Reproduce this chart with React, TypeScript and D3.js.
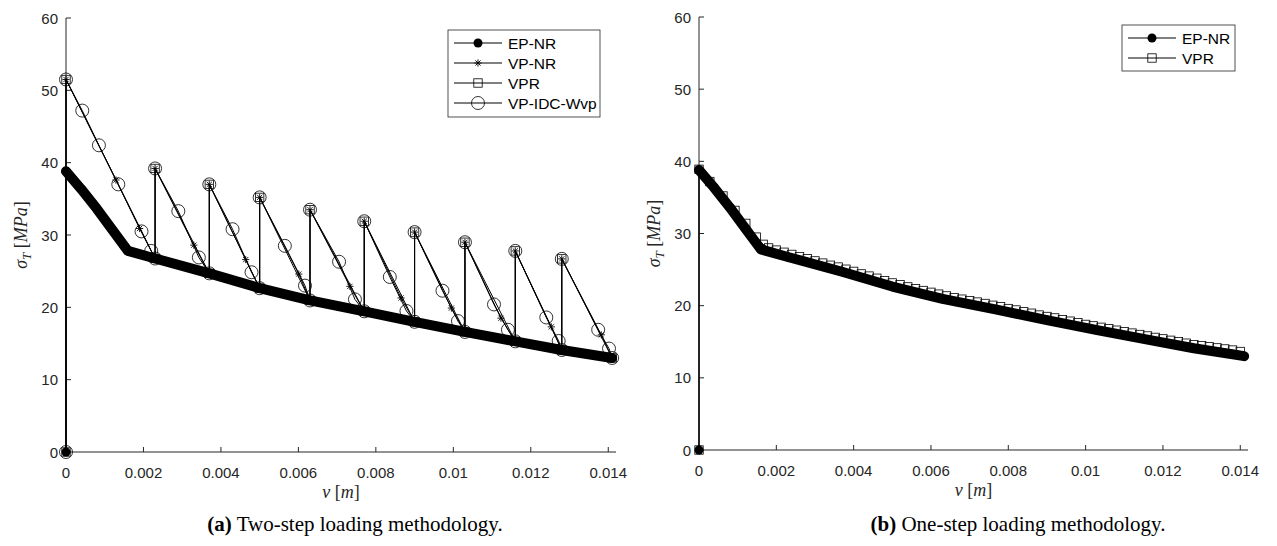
import React from "react";
import * as d3 from "d3";

// ---- data ----
const xTicks = [0, 0.002, 0.004, 0.006, 0.008, 0.01, 0.012, 0.014];
const xTickLabels = ["0", "0.002", "0.004", "0.006", "0.008", "0.01", "0.012", "0.014"];
const yTicks = [0, 10, 20, 30, 40, 50, 60];

// EP-NR (same response in both panels)
const epV = [0, 0, 0.0004, 0.0008, 0.0012, 0.0016, 0.0023, 0.0037, 0.005, 0.0063, 0.0077, 0.009, 0.0103, 0.0116, 0.0128, 0.0141];
const epS = [0, 38.8, 36.3, 33.6, 30.7, 27.8, 26.75, 24.7, 22.65, 20.95, 19.45, 18.0, 16.6, 15.3, 14.1, 13.0];

// two-step: VP-NR
const vpnrV = [0, 0, 0.00129, 0.0019, 0.0023, 0.0023, 0.0033, 0.0037, 0.0037, 0.00464, 0.005, 0.005, 0.00601, 0.0063, 0.0063, 0.00733, 0.0077, 0.0077, 0.00865, 0.009, 0.009, 0.00995, 0.0103, 0.0103, 0.01123, 0.0116, 0.0116, 0.01253, 0.0128, 0.0128, 0.01382, 0.0141];
const vpnrS = [0, 51.5, 37.6, 30.9, 26.75, 39.2, 28.6, 24.7, 37.0, 26.6, 22.65, 35.2, 24.6, 20.95, 33.5, 22.9, 19.45, 31.9, 21.3, 18.0, 30.4, 19.9, 16.6, 29.0, 18.5, 15.3, 27.8, 17.3, 14.1, 26.7, 16.2, 13.0];

// two-step: VPR
const vprV = [0, 0, 0.0023, 0.0023, 0.0037, 0.0037, 0.005, 0.005, 0.0063, 0.0063, 0.0077, 0.0077, 0.009, 0.009, 0.0103, 0.0103, 0.0116, 0.0116, 0.0128, 0.0128, 0.0141];
const vprS = [0, 51.5, 26.75, 39.2, 24.7, 37.0, 22.65, 35.2, 20.95, 33.5, 19.45, 31.9, 18.0, 30.4, 16.6, 29.0, 15.3, 27.8, 14.1, 26.7, 13.0];

// two-step: VP-IDC-Wvp
const idcV = [0, 0, 0.00042, 0.00085, 0.00135, 0.00195, 0.0022, 0.0023, 0.0023, 0.0029, 0.00343, 0.0037, 0.0037, 0.0043, 0.00479, 0.005, 0.005, 0.00565, 0.00617, 0.0063, 0.0063, 0.00705, 0.00746, 0.0077, 0.0077, 0.00836, 0.00879, 0.009, 0.009, 0.00972, 0.01012, 0.0103, 0.0103, 0.01105, 0.01141, 0.0116, 0.0116, 0.0124, 0.01272, 0.0128, 0.0128, 0.01374, 0.01402, 0.0141];
const idcS = [0, 51.5, 47.2, 42.4, 37.0, 30.5, 27.8, 26.75, 39.2, 33.3, 26.9, 24.7, 37.0, 30.8, 24.85, 22.65, 35.2, 28.5, 23.0, 20.95, 33.5, 26.3, 21.1, 19.45, 31.9, 24.2, 19.5, 18.0, 30.4, 22.3, 18.1, 16.6, 29.0, 20.4, 16.9, 15.3, 27.8, 18.6, 15.35, 14.1, 26.7, 16.9, 14.3, 13.0];

// one-step: VPR
const vpr1V = [0, 0, 0.00028, 0.00062, 0.00093, 0.00121, 0.00148, 0.00166,
  0.0018, 0.002, 0.0022, 0.0024, 0.0026, 0.0028, 0.003, 0.0032, 0.0034, 0.0036, 0.0038, 0.004,
  0.0042, 0.0044, 0.0046, 0.0048, 0.005, 0.0052, 0.0054, 0.0056, 0.0058, 0.006, 0.0062, 0.0064,
  0.0066, 0.0068, 0.007, 0.0072, 0.0074, 0.0076, 0.0078, 0.008, 0.0082, 0.0084, 0.0086, 0.0088,
  0.009, 0.0092, 0.0094, 0.0096, 0.0098, 0.01, 0.0102, 0.0104, 0.0106, 0.0108, 0.011, 0.0112,
  0.0114, 0.0116, 0.0118, 0.012, 0.0122, 0.0124, 0.0126, 0.0128, 0.013, 0.0132, 0.0134, 0.0136,
  0.0138, 0.014];
const vpr1S = [0, 38.9, 37.2, 35.2, 33.2, 31.4, 29.5, 28.5,
  28.0, 27.7, 27.4, 27.1, 26.8, 26.5, 26.2, 25.9, 25.6, 25.35, 25.05, 24.75,
  24.4, 24.1, 23.8, 23.45, 23.15, 22.9, 22.6, 22.35, 22.1, 21.85, 21.6, 21.35,
  21.1, 20.9, 20.7, 20.5, 20.3, 20.05, 19.85, 19.6, 19.4, 19.15, 18.95, 18.7,
  18.5, 18.3, 18.05, 17.85, 17.65, 17.4, 17.2, 17.0, 16.8, 16.6, 16.4, 16.2,
  16.0, 15.8, 15.6, 15.4, 15.2, 15.0, 14.8, 14.6, 14.45, 14.3, 14.15, 14.0,
  13.85, 13.65];

const grey = "#262626";
const sans = "'Liberation Sans', Arial, Helvetica, sans-serif";
const serif = "'Liberation Serif', 'DejaVu Serif', serif";

type MarkerKind = "dot" | "star" | "square" | "circle";

function Marker({ kind, x, y }: { kind: MarkerKind; x: number; y: number }) {
  if (kind === "dot") return <circle cx={x} cy={y} r={4.5} fill="#000" />;
  if (kind === "circle") return <circle cx={x} cy={y} r={6.5} fill="none" stroke="#000" strokeWidth={0.8} />;
  if (kind === "square") return <rect x={x - 4.2} y={y - 4.2} width={8.4} height={8.4} fill="none" stroke="#000" strokeWidth={0.8} />;
  const a = 3.6, b = 2.6;
  return (
    <g stroke="#000" strokeWidth={0.9}>
      <line x1={x} y1={y - a} x2={x} y2={y + a} />
      <line x1={x - a} y1={y} x2={x + a} y2={y} />
      <line x1={x - b} y1={y - b} x2={x + b} y2={y + b} />
      <line x1={x - b} y1={y + b} x2={x + b} y2={y - b} />
    </g>
  );
}

type Series = { v: number[]; s: number[]; marker: MarkerKind; label: string; thickFrom?: number };

function Panel({
  x0, x1, yTop, yBottom, series, legend, ylabelX, caption, captionX, captionTag,
}: {
  x0: number; x1: number; yTop: number; yBottom: number; series: Series[];
  legend: { x: number; y: number; w: number; h: number };
  ylabelX: number; caption: string; captionX: number; captionTag: string;
}) {
  const x = d3.scaleLinear().domain([0, 0.0142]).range([x0, x1]);
  const y = d3.scaleLinear().domain([0, 60]).range([yBottom, yTop]);
  const path = (v: number[], s: number[]) =>
    d3.line<number>().x((d) => x(d)).y((_, i) => y(s[i]))(v) || "";
  const xMid = (x0 + x1) / 2;
  const yMid = (yTop + yBottom) / 2;
  return (
    <g>
      {/* axes */}
      <line x1={x0} y1={yBottom} x2={x1} y2={yBottom} stroke={grey} strokeWidth={1} />
      <line x1={x0} y1={yBottom} x2={x0} y2={yTop} stroke={grey} strokeWidth={1} />
      {xTicks.map((t, i) => (
        <g key={"xt" + i}>
          <line x1={x(t)} x2={x(t)} y1={yBottom} y2={yBottom - 5} stroke={grey} />
          <text x={x(t)} y={yBottom + 26} textAnchor="middle" fontFamily={sans} fontSize={15} fill={grey}>
            {xTickLabels[i]}
          </text>
        </g>
      ))}
      {yTicks.map((t) => (
        <g key={"yt" + t}>
          <line x1={x0} x2={x0 + 5} y1={y(t)} y2={y(t)} stroke={grey} />
          <text x={x0 - 8} y={y(t) + 5.5} textAnchor="end" fontFamily={sans} fontSize={15} fill={grey}>
            {t}
          </text>
        </g>
      ))}

      {/* series */}
      {series.map((se, k) => (
        <g key={"s" + k}>
          <path d={path(se.v, se.s)} fill="none" stroke="#000" strokeWidth={1} />
          {se.thickFrom !== undefined && (
            <path
              d={path(se.v.slice(se.thickFrom), se.s.slice(se.thickFrom))}
              fill="none" stroke="#000" strokeWidth={10} strokeLinejoin="round" strokeLinecap="round"
            />
          )}
        </g>
      ))}
      {series.map((se, k) => (
        <g key={"m" + k}>
          {se.v.map((v, i) => (
            <Marker key={i} kind={se.marker} x={x(v)} y={y(se.s[i])} />
          ))}
        </g>
      ))}

      {/* axis labels */}
      <text x={xMid} y={yBottom + 46} textAnchor="middle" fontFamily={serif} fontSize={18} fill={grey}>
        <tspan fontStyle="italic">v</tspan>
        <tspan> [</tspan>
        <tspan fontStyle="italic">m</tspan>
        <tspan>]</tspan>
      </text>
      <text transform={`translate(${ylabelX},${yMid}) rotate(-90)`} textAnchor="middle" fontFamily={serif} fontSize={18} fill={grey}>
        <tspan fontStyle="italic">σ</tspan>
        <tspan fontStyle="italic" fontSize={13} dy={4}>T</tspan>
        <tspan dy={-4}> [</tspan>
        <tspan fontStyle="italic">MPa</tspan>
        <tspan>]</tspan>
      </text>

      {/* legend */}
      <rect x={legend.x} y={legend.y} width={legend.w} height={legend.h} fill="#fff" stroke={grey} strokeWidth={0.8} />
      {series.map((se, k) => {
        const ly = legend.y + 13 + k * 20;
        return (
          <g key={"l" + k}>
            <line x1={legend.x + 6} x2={legend.x + 54} y1={ly} y2={ly} stroke="#000" strokeWidth={1} />
            <Marker kind={se.marker} x={legend.x + 30} y={ly} />
            <text x={legend.x + 60} y={ly + 5.5} fontFamily={sans} fontSize={15.5} fill="#000">
              {se.label}
            </text>
          </g>
        );
      })}

      {/* caption */}
      <text x={captionX} y={531} textAnchor="middle" fontFamily={serif} fontSize={21} fill="#000">
        <tspan fontWeight="bold">{captionTag}</tspan>
        <tspan> {caption}</tspan>
      </text>
    </g>
  );
}

export default function App() {
  const ep: Series = { v: epV, s: epS, marker: "dot", label: "EP-NR", thickFrom: 1 };
  const left: Series[] = [
    ep,
    { v: vpnrV, s: vpnrS, marker: "star", label: "VP-NR" },
    { v: vprV, s: vprS, marker: "square", label: "VPR" },
    { v: idcV, s: idcS, marker: "circle", label: "VP-IDC-Wvp" },
  ];
  const right: Series[] = [ep, { v: vpr1V, s: vpr1S, marker: "square", label: "VPR" }];
  return (
    <svg width={1277} height={546} style={{ position: "absolute", left: 0, top: 0, background: "#fff" }}>
      <Panel
        x0={66} x1={616} yTop={18} yBottom={452} series={left}
        legend={{ x: 448, y: 30, w: 152, h: 87 }}
        ylabelX={27} caption="Two-step loading methodology." captionX={355} captionTag="(a)"
      />
      <Panel
        x0={699} x1={1248} yTop={17} yBottom={450} series={right}
        legend={{ x: 1122, y: 25, w: 113, h: 46 }}
        ylabelX={660} caption="One-step loading methodology." captionX={1018} captionTag="(b)"
      />
    </svg>
  );
}
